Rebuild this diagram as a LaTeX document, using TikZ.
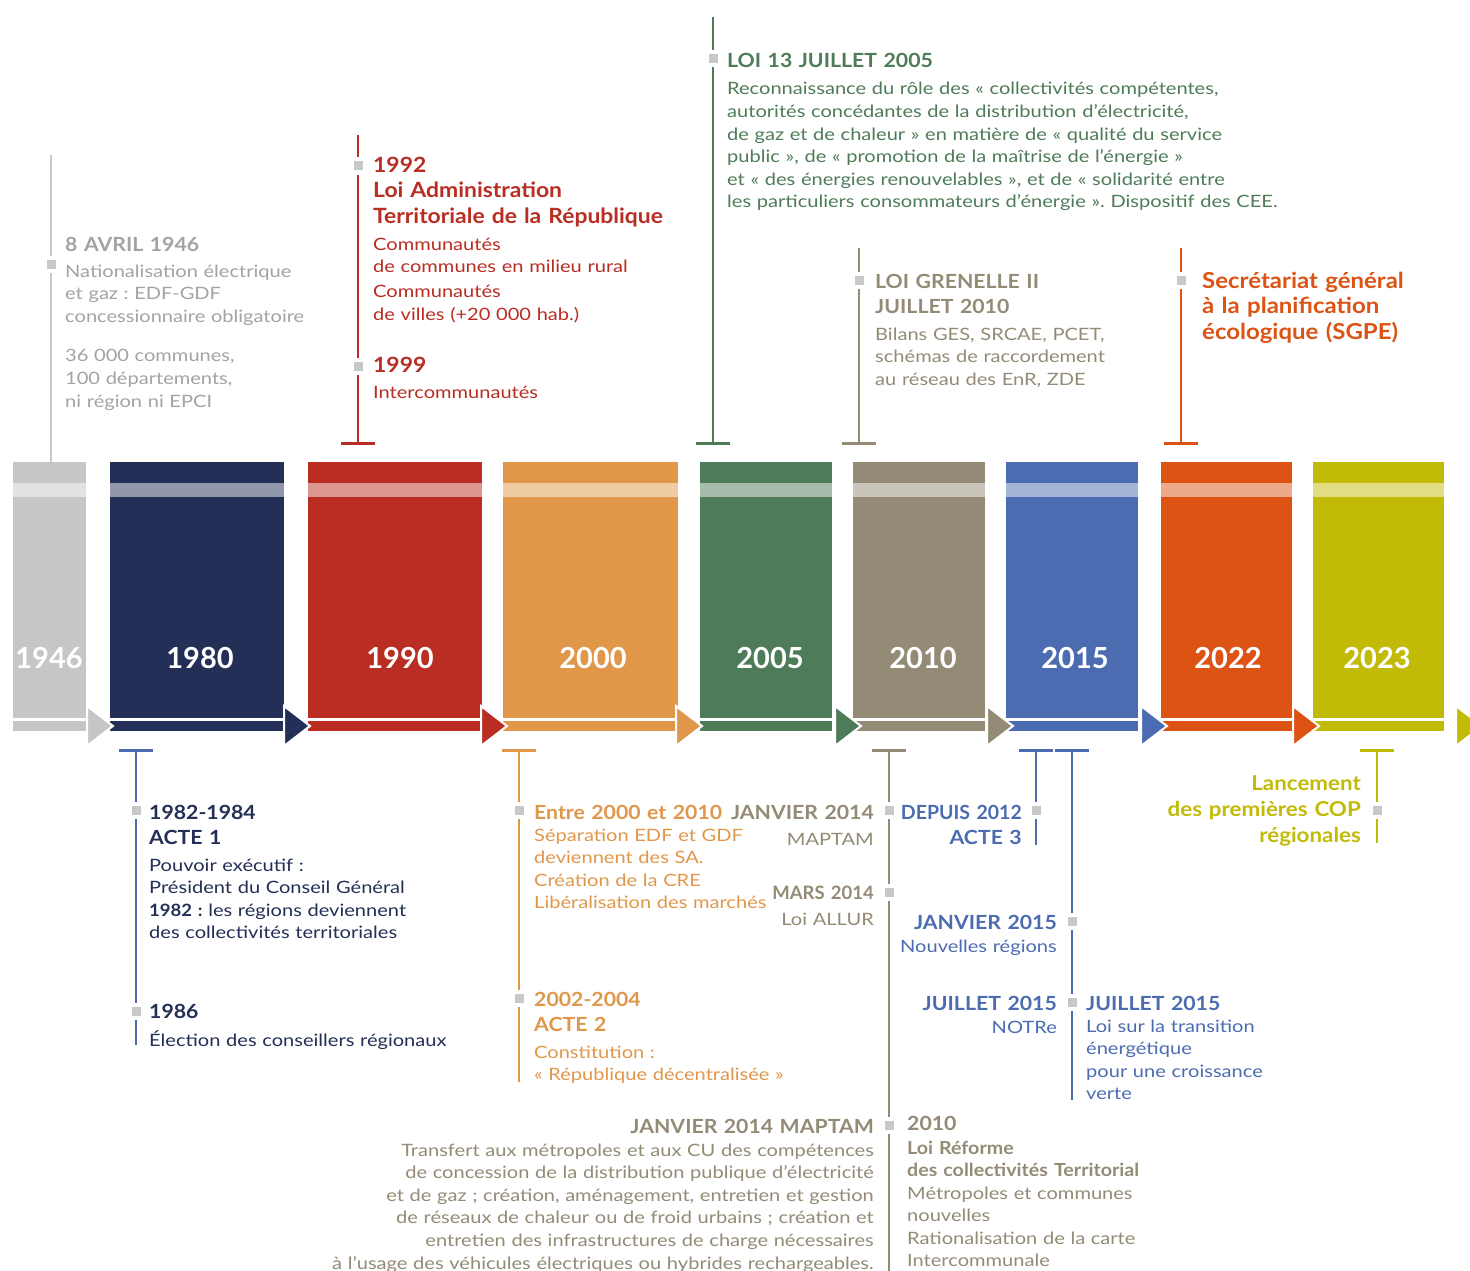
\documentclass[tikz,border=0pt]{standalone}
\usepackage{fontspec}
\setmainfont{Lato}[UprightFeatures={FakeStretch=1.18}, BoldFeatures={FakeStretch=1.09}]
\newfontfamily\yrfont{Lato}
\frenchspacing
\definecolor{c46}{HTML}{C6C6C6}
\definecolor{g46}{HTML}{A3A3A3}
\definecolor{mkgray}{HTML}{C8C8C8}
\definecolor{navy}{HTML}{232F57}
\definecolor{rouge}{HTML}{B92D22}
\definecolor{orng}{HTML}{E0974A}
\definecolor{vert}{HTML}{4E7C58}
\definecolor{taupe}{HTML}{938B75}
\definecolor{bleu}{HTML}{4C6CB2}
\definecolor{orng2}{HTML}{DC5314}
\definecolor{olive}{HTML}{C1BB08}
\tikzset{
  hd/.style={font=\fontsize{19.5}{25.7}\selectfont\bfseries, inner sep=0pt, text width=700pt, align=left, anchor=base west},
  hdbig/.style={hd, font=\fontsize{21}{25.9}\selectfont\bfseries},
  hds/.style={font=\fontsize{18}{22}\selectfont\bfseries, inner sep=0pt, text width=700pt, align=left, anchor=base west},
  bd/.style={font=\fontsize{17}{22.6}\selectfont, inner sep=0pt, text width=700pt, align=left, anchor=base west},
  hdr/.style={hd, align=right, anchor=base east},
  bdr/.style={bd, align=right, anchor=base east},
  yr/.style={font=\yrfont\fontsize{29}{30}\selectfont\bfseries, text=white, inner sep=0pt, anchor=base},
  mk/.style={rectangle, fill=mkgray, minimum size=9pt, inner sep=0pt, preaction={draw=white, line width=8pt}},
  stem/.style={line width=2.5pt},
  tbar/.style={line width=3pt},
}
\newcommand\stemT[5]{%
  \coordinate (#1T) at (#2,#3);
  \coordinate (#1E) at (#2,#4);
  \draw[stem,#5] (#1T) -- (#1E);
  \draw[tbar,#5] ([xshift=-17pt]#1T) -- ([xshift=17pt]#1T);
}
\begin{document}
\begin{tikzpicture}[x=1pt,y=-1pt]
\useasboundingbox (0,0) rectangle (1470,1271);
\fill[white] (0,0) rectangle (1470,1271);

% bars
\foreach \a/\b/\c/\t/\lx in {13/86/c46/1946/49, 110/284/navy/1980/200, 308/482/rouge/1990/400,
  503/678/orng/2000/593, 700/832/vert/2005/770, 853/985/taupe/2010/923,
  1006/1138/bleu/2015/1075, 1161/1292/orng2/2022/1228, 1313/1444/olive/2023/1377} {
  \fill[\c] (\a,462) rectangle (\b,718);
  \fill[white, opacity=.5] (\a,483) rectangle (\b,497);
  \fill[\c] (\a,721) rectangle (\b,731);
  \node[yr] (y\t) at (\lx,668) {\t};
}
\foreach \b/\c in {87/c46, 284/navy, 481/rouge, 676/orng, 835/vert, 987/taupe, 1141/bleu, 1293/orng2, 1456/olive} {
  \filldraw[fill=\c, draw=white, line width=2pt, line join=miter] (\b,706) -- (\b+26,726) -- (\b,746) -- cycle;
}

% stems above
\coordinate (s46T) at (51,462);
\coordinate (s46E) at (51,155);
\draw[stem, mkgray] (s46T) -- (s46E);
\stemT{s90}{358}{443}{135}{rouge}
\stemT{s05}{713}{443}{17}{vert}
\stemT{s10}{859}{443}{248}{taupe}
\stemT{s22}{1181}{443}{248}{orng2}
% stems below
\stemT{s80}{136}{750}{1045}{bleu}
\stemT{s00}{519}{750}{1082}{orng}
\stemT{s10b}{889}{750}{1275}{taupe}
\stemT{s15a}{1036}{750}{845}{bleu}
\stemT{s15b}{1072}{750}{1100}{bleu}
\stemT{s23}{1377}{750}{843}{olive}

% markers
\foreach \x/\y [count=\i] in {51/264, 358/166, 358/366, 713/59, 859/280, 1181/280,
  136/810, 136/1011, 519/810, 519/998, 889/810, 889/892, 889/1125,
  1036/810, 1072/921, 1072/1002, 1377/810} {
  \node[mk] (m\i) at (\x,\y) {};
}

% 1946
\node[hd, text=g46] (t46h) at (65,251) {8 AVRIL 1946};
\node[bd, text=g46] (t46b) at (65,277) {Nationalisation électrique\\et gaz : EDF-GDF\\concessionnaire obligatoire\\[17pt]36 000 communes,\\100 départements,\\ni région ni EPCI};

% 1990
\node[hdbig, text=rouge] (t90h) at (373,172) {1992\\Loi Administration\\Territoriale de la République};
\node[bd, text=rouge] (t90b) at (373,250) {Communautés\\de communes en milieu rural\\[2.5pt]Communautés\\de villes (+20 000 hab.)};
\node[hdbig, text=rouge] (t99h) at (373,372) {1999};
\node[bd, text=rouge] (t99b) at (373,398) {Intercommunautés};

% 2005
\node[hd, text=vert] (t05h) at (727,68) {LOI 13 JUILLET 2005};
\node[bd, text=vert] (t05b) at (727,95) {Reconnaissance du rôle des « collectivités compétentes,\\autorités concédantes de la distribution d’électricité,\\de gaz et de chaleur » en matière de « qualité du service\\public », de « promotion de la maîtrise de l’énergie »\\et « des énergies renouvelables », et de « solidarité entre\\les particuliers consommateurs d’énergie ». Dispositif des CEE.};

% 2010 top
\node[hd, text=taupe] (t10h) at (875,288) {LOI GRENELLE II\\JUILLET 2010};
\node[bd, text=taupe] (t10b) at (875,340) {Bilans GES, SRCAE, PCET,\\schémas de raccordement\\au réseau des EnR, ZDE};

% 2022
\node[hd, font=\fontsize{22}{25.6}\selectfont\bfseries, text=orng2] (t22h) at (1202,288) {Secrétariat général\\à la planification\\écologique (SGPE)};

% 1980 below
\node[hd, text=navy] (t80h) at (149,819) {1982-1984\\ACTE 1};
\node[bd, text=navy] (t80b) at (149,871) {Pouvoir exécutif :\\Président du Conseil Général\\\textbf{1982 :} les régions deviennent\\des collectivités territoriales};
\node[hd, text=navy] (t86h) at (149,1018) {1986};
\node[bd, text=navy] (t86b) at (149,1046) {Élection des conseillers régionaux};

% 2000 below
\node[hd, text=orng] (t00h) at (534,819) {Entre 2000 et 2010};
\node[bd, text=orng] (t00b) at (534,841) {Séparation EDF et GDF\\deviennent des SA.\\Création de la CRE\\Libéralisation des marchés};
\node[hd, text=orng] (t02h) at (534,1006) {2002-2004\\ACTE 2};
\node[bd, text=orng] (t02b) at (534,1058) {Constitution :\\« République décentralisée »};

% 2010 below, left
\node[hdr, text=taupe] (t14h) at (874,819) {JANVIER 2014};
\node[bdr, text=taupe] (t14b) at (874,845) {MAPTAM};
\node[hdr, font=\yrfont\fontsize{18.5}{24}\selectfont\bfseries, text=taupe] (t14mh) at (874,899) {MARS 2014};
\node[bdr, text=taupe] (t14mb) at (874,925) {Loi ALLUR};
\node[hdr, text=taupe] (t14jh) at (874,1133) {JANVIER 2014 MAPTAM};
\node[bdr, text=taupe] (t14jb) at (874,1156) {Transfert aux métropoles et aux CU des compétences\\de concession de la distribution publique d’électricité\\et de gaz ; création, aménagement, entretien et gestion\\de réseaux de chaleur ou de froid urbains ; création et\\entretien des infrastructures de charge nécessaires\\à l’usage des véhicules électriques ou hybrides rechargeables.};

% 2010 below, right
\node[hd, text=taupe] (t10rh) at (907,1130) {2010};
\node[hds, text=taupe] (t10rs) at (907,1154) {Loi Réforme\\des collectivités Territorial};
\node[bd, text=taupe] (t10rb) at (907,1199) {Métropoles et communes\\nouvelles\\Rationalisation de la carte\\Intercommunale};

% 2015
\node[hdr, text=bleu] (t12h) at (1022,819) {{\yrfont DEPUIS 2012}\\ACTE 3};
\node[hdr, text=bleu] (t15jh) at (1057,929) {JANVIER 2015};
\node[bdr, text=bleu] (t15jb) at (1057,952) {Nouvelles régions};
\node[hdr, text=bleu] (t15nh) at (1057,1010) {JUILLET 2015};
\node[bdr, text=bleu] (t15nb) at (1057,1033) {NOTRe};
\node[hd, text=bleu] (t15th) at (1086,1010) {JUILLET 2015};
\node[bd, text=bleu] (t15tb) at (1086,1032) {Loi sur la transition\\énergétique\\pour une croissance\\verte};

% 2023
\node[hdr, font=\fontsize{20.5}{26}\selectfont\bfseries, text=olive] (t23h) at (1361,790) {Lancement\\des premières COP\\régionales};
\end{tikzpicture}
\end{document}
